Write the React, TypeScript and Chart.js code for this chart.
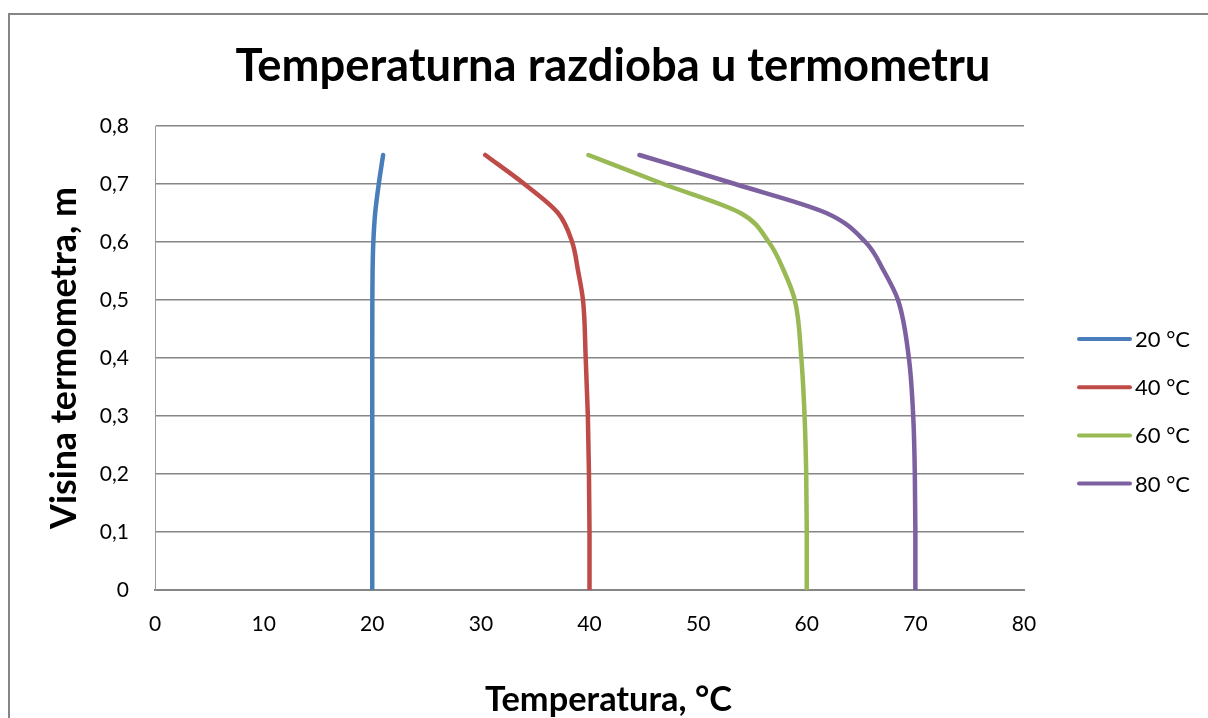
import React, { useEffect, useRef } from "react";
import { Chart, registerables } from "chart.js";

Chart.register(...registerables);

const chartTitle = "Temperaturna razdioba u termometru";
const xAxisTitle = "Temperatura, °C";
const yAxisTitle = "Visina termometra, m";

const heights = [0, 0.1, 0.2, 0.3, 0.4, 0.5, 0.55, 0.6, 0.65, 0.7, 0.75];
const seriesLabels = ["20 °C", "40 °C", "60 °C", "80 °C"];
const temps20 = [20, 20, 20, 20, 20, 20.01, 20.03, 20.1, 20.27, 20.6, 21.0];
const temps40 = [40, 40, 39.95, 39.85, 39.65, 39.4, 38.95, 38.4, 37.1, 34.0, 30.4];
const temps60 = [60, 60, 59.95, 59.8, 59.5, 58.9, 57.9, 56.5, 53.9, 46.8, 39.9];
const temps80 = [70, 70, 69.95, 69.8, 69.4, 68.4, 67.1, 65.4, 61.8, 53.4, 44.6];
const seriesColors = ["#4A7EBB", "#BE4B48", "#98B954", "#7D60A0"];

const xMin = 0;
const xMax = 80;
const xStep = 10;
const yMin = 0;
const yMax = 0.8;
const yStep = 0.1;

const FONT = "Lato, 'Open Sans', sans-serif";

const textPlugin = {
  id: "excelTexts",
  afterDraw(chart: any) {
    const ctx = chart.ctx as CanvasRenderingContext2D;
    const area = chart.chartArea;
    ctx.save();
    ctx.fillStyle = "#000";
    const fitSize = (text: string, weight: string, target: number) => {
      ctx.font = `${weight} 100px ${FONT}`;
      const w = ctx.measureText(text).width;
      return (100 * target) / w;
    };

    // Title
    const ts = fitSize(chartTitle, "bold", 755);
    ctx.font = `bold ${ts}px ${FONT}`;
    ctx.textAlign = "center";
    ctx.textBaseline = "alphabetic";
    ctx.fillText(chartTitle, 613, 81);

    // X axis title
    const xs = fitSize(xAxisTitle, "bold", 247);
    ctx.font = `bold ${xs}px ${FONT}`;
    ctx.fillText(xAxisTitle, (area.left + area.right) / 2 + 19, 711);

    // Y axis title
    const ys = fitSize(yAxisTitle, "bold", 342);
    ctx.font = `bold ${ys}px ${FONT}`;
    ctx.translate(76, (area.top + area.bottom) / 2);
    ctx.rotate(-Math.PI / 2);
    ctx.fillText(yAxisTitle, 0, 0);
    ctx.setTransform(1, 0, 0, 1, 0, 0);

    // Legend
    const items = chart.data.datasets;
    ctx.font = `22px ${FONT}`;
    ctx.textAlign = "left";
    ctx.textBaseline = "middle";
    items.forEach((ds: any, i: number) => {
      const y = 339 + i * 48.2;
      ctx.strokeStyle = ds.borderColor;
      ctx.lineWidth = 4;
      ctx.lineCap = "round";
      ctx.beginPath();
      ctx.moveTo(1079, y);
      ctx.lineTo(1130, y);
      ctx.stroke();
      ctx.fillStyle = "#000";
      ctx.fillText(ds.label, 1135, y + 1);
    });
    ctx.restore();
  },
};

export default function App() {
  const ref = useRef<HTMLCanvasElement | null>(null);

  useEffect(() => {
    if (!ref.current) return;
    const series = [temps20, temps40, temps60, temps80];
    const chart = new Chart(ref.current, {
      type: "scatter",
      data: {
        datasets: series.map((temps, i) => ({
          label: seriesLabels[i],
          data: temps.map((t, j) => ({ x: t, y: heights[j] })),
          showLine: true,
          indexAxis: "y",
          cubicInterpolationMode: "monotone",
          borderColor: seriesColors[i],
          backgroundColor: seriesColors[i],
          borderWidth: 4.5,
          pointRadius: 0,
          pointHoverRadius: 0,
          borderCapStyle: "round",
          borderJoinStyle: "round",
        })),
      },
      options: {
        responsive: false,
        animation: false,
        devicePixelRatio: 1,
        layout: { padding: { left: 0, top: 126, right: 184, bottom: 0 } },
        plugins: {
          legend: { display: false },
          title: { display: false },
          tooltip: { enabled: false },
        },
        scales: {
          x: {
            type: "linear",
            min: xMin,
            max: xMax,
            afterFit: (s: any) => {
              s.height = 128;
            },
            ticks: {
              stepSize: xStep,
              padding: 22,
              color: "#000",
              font: { family: FONT, size: 21 },
              maxRotation: 0,
            },
            grid: { display: false, drawTicks: false },
            border: { display: true, color: "#868686", width: 2 },
          },
          y: {
            type: "linear",
            min: yMin,
            max: yMax,
            afterFit: (s: any) => {
              s.width = 155;
            },
            ticks: {
              stepSize: yStep,
              padding: 26,
              color: "#000",
              font: { family: FONT, size: 21 },
              callback: (v: any) => (Math.round(Number(v) * 10) / 10).toString().replace(".", ","),
            },
            grid: { display: true, drawTicks: false, color: "#868686", lineWidth: 1.5 },
            border: { display: true, color: "#9a9a9a", width: 1 },
          },
        },
      },
      plugins: [textPlugin],
    } as any);
    return () => chart.destroy();
  }, []);

  return (
    <div
      style={{
        position: "fixed",
        left: 0,
        top: 0,
        width: 1208,
        height: 718,
        overflow: "hidden",
        background: "#fff",
      }}
    >
      <div
        style={{
          position: "absolute",
          left: 8,
          top: 13,
          width: 1400,
          height: 900,
          borderLeft: "2px solid #868686",
          borderTop: "2px solid #868686",
        }}
      />
      <canvas
        ref={ref}
        width={1208}
        height={718}
        style={{ position: "absolute", left: 0, top: 0, width: 1208, height: 718 }}
      />
    </div>
  );
}
